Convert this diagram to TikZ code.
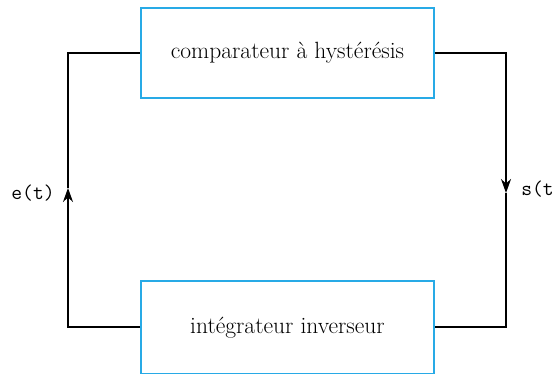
\documentclass[tikz,border=0pt]{standalone}
\usetikzlibrary{arrows.meta}
\definecolor{boxblue}{RGB}{40,170,230}
\begin{document}
\begin{tikzpicture}[x=1pt,y=1pt,
  blockbox/.style={draw=boxblue,line width=1.8pt,minimum width=293pt,minimum height=90pt,inner sep=0pt,font=\fontsize{23.5}{28}\selectfont},
  wire/.style={line width=1.7pt,black},
  tip/.style={-{Stealth[length=14pt,width=10pt]}},
  sig/.style={font=\ttfamily\fontsize{21}{25}\selectfont,inner sep=0pt}]
\useasboundingbox (0,0) rectangle (554,373);
\node[blockbox] (comp) at (287.5,320) {comparateur à hystérésis};
\node[blockbox,minimum height=93pt] (integ) at (287.5,45.5) {\raisebox{5pt}{intégrateur inverseur}};
\coordinate (lmid) at (68,185);
\coordinate (rmid) at (506,180);
\draw[wire,tip] (integ.west |- 0,46) -| (lmid);
\draw[wire] (lmid) |- (comp.west);
\draw[wire,tip] (comp.east) -| (rmid);
\draw[wire] (rmid) |- (integ.east |- 0,46);
\node[sig] (e) at (33,180) {e(t)};
\node[sig,anchor=east] (s) at (554,184) {s(t};
\end{tikzpicture}
\end{document}
